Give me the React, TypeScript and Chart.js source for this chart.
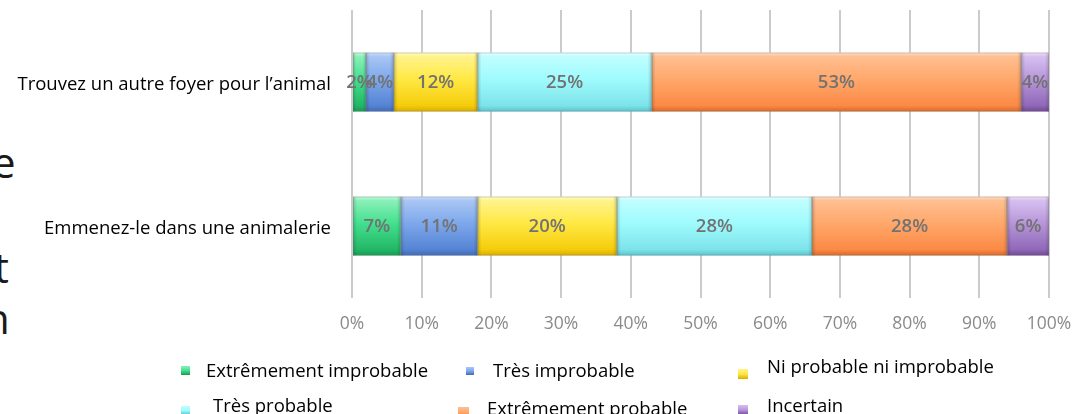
import React, { useEffect, useRef } from "react";
import { Chart, registerables } from "chart.js";

Chart.register(...registerables);

// Survey answers, percentages per option
const categories = ["Trouvez un autre foyer pour l’animal", "Emmenez-le dans une animalerie"];

const seriesNames = [
  "Extrêmement improbable",
  "Très improbable",
  "Ni probable ni improbable",
  "Très probable",
  "Extrêmement probable",
  "Incertain",
];

const extremementImprobable = [2, 7];
const tresImprobable = [4, 11];
const niProbableNiImprobable = [12, 20];
const tresProbable = [25, 28];
const extremementProbable = [53, 28];
const incertain = [4, 6];

const xTickValues = [0, 10, 20, 30, 40, 50, 60, 70, 80, 90, 100];

const FONT = "'Open Sans', 'Noto Sans', sans-serif";
const BAR_FRACTION = 0.41;

// Bevel-like vertical shading for each answer
const palette = [
  { hi: "#c4fadc", top: "#8af0b8", mid: "#44e08f", bottom: "#22b767", edge: "#159a52" },
  { hi: "#cfe0fa", top: "#a8c5f4", mid: "#7ea8ec", bottom: "#5584d4", edge: "#3e69b5" },
  { hi: "#fffbc8", top: "#fff38a", mid: "#ffe844", bottom: "#f5cc0a", edge: "#d9ad00" },
  { hi: "#e6ffff", top: "#bffeff", mid: "#9ffbfd", bottom: "#7de3ea", edge: "#58c4cc" },
  { hi: "#ffe0c8", top: "#ffbf92", mid: "#ffa86b", bottom: "#fb8a45", edge: "#d9692a" },
  { hi: "#eee0f8", top: "#d6bff0", mid: "#b896da", bottom: "#9068b8", edge: "#6f4794" },
];

// Legend placement (box x, box y, box size, text x, text baseline)
const legendLayout = [
  { bx: 181, by: 366, bs: 9, tx: 206, ty: 377 },
  { bx: 466, by: 367, bs: 8, tx: 493, ty: 377 },
  { bx: 738, by: 369, bs: 10, tx: 767, ty: 373 },
  { bx: 181, by: 406, bs: 9, tx: 213, ty: 412 },
  { bx: 458, by: 407, bs: 11, tx: 487, ty: 415 },
  { bx: 738, by: 405, bs: 10, tx: 767, ty: 412 },
];

function barFill(ci: number) {
  return (ctx: any) => {
    const c = palette[ci];
    const chart = ctx.chart;
    const yScale = chart.scales && chart.scales.y;
    if (!chart.chartArea || !yScale || ctx.type !== "data") return c.mid;
    const cy = yScale.getPixelForValue(ctx.dataIndex);
    const band = Math.abs(yScale.getPixelForValue(1) - yScale.getPixelForValue(0)) || yScale.height;
    const half = (band * BAR_FRACTION) / 2;
    const g = chart.ctx.createLinearGradient(0, cy - half, 0, cy + half);
    g.addColorStop(0, c.hi);
    g.addColorStop(0.07, c.top);
    g.addColorStop(0.45, c.mid);
    g.addColorStop(0.9, c.bottom);
    g.addColorStop(1, c.edge);
    return g;
  };
}

function dropScalePadding(scale: any) {
  scale.paddingLeft = 0;
  scale.paddingRight = 0;
  scale.paddingTop = 0;
  scale.paddingBottom = 0;
}

const barDecor = {
  id: "barDecor",
  afterDatasetsDraw(chart: any) {
    const { ctx } = chart;
    ctx.save();
    chart.data.datasets.forEach((ds: any, i: number) => {
      const meta = chart.getDatasetMeta(i);
      meta.data.forEach((el: any) => {
        const left = Math.min(el.x, el.base);
        const right = Math.max(el.x, el.base);
        const top = el.y - el.height / 2;
        const bottom = el.y + el.height / 2;
        // soft side shading
        const w = Math.min(4, (right - left) / 4);
        const gl = ctx.createLinearGradient(left, 0, left + w, 0);
        gl.addColorStop(0, "rgba(0,0,0,0.18)");
        gl.addColorStop(1, "rgba(0,0,0,0)");
        ctx.fillStyle = gl;
        ctx.fillRect(left, top, w, bottom - top);
        const gr = ctx.createLinearGradient(right - w, 0, right, 0);
        gr.addColorStop(0, "rgba(0,0,0,0)");
        gr.addColorStop(1, "rgba(0,0,0,0.16)");
        ctx.fillStyle = gr;
        ctx.fillRect(right - w, top, w, bottom - top);
        // thin outline
        ctx.strokeStyle = "rgba(120,120,120,0.35)";
        ctx.lineWidth = 1;
        ctx.strokeRect(left + 0.5, top + 0.5, right - left - 1, bottom - top - 1);
      });
    });
    // value labels
    ctx.font = `600 18.5px ${FONT}`;
    ctx.fillStyle = "#727272";
    ctx.textAlign = "center";
    ctx.textBaseline = "middle";
    chart.data.datasets.forEach((ds: any, i: number) => {
      const meta = chart.getDatasetMeta(i);
      meta.data.forEach((el: any, j: number) => {
        ctx.fillText(`${ds.data[j]}%`, (el.x + el.base) / 2, el.y + 1);
      });
    });
    ctx.restore();
  },
};

const manualLegend = {
  id: "manualLegend",
  afterDraw(chart: any) {
    const { ctx } = chart;
    ctx.save();
    ctx.font = `18.5px ${FONT}`;
    ctx.textAlign = "left";
    ctx.textBaseline = "alphabetic";
    legendLayout.forEach((p, i) => {
      const c = palette[i];
      const g = ctx.createLinearGradient(0, p.by, 0, p.by + p.bs);
      g.addColorStop(0, c.top);
      g.addColorStop(0.5, c.mid);
      g.addColorStop(1, c.edge);
      ctx.fillStyle = g;
      ctx.fillRect(p.bx, p.by, p.bs, p.bs);
      ctx.fillStyle = "#000";
      ctx.fillText(seriesNames[i], p.tx, p.ty);
    });
    ctx.restore();
  },
};

export default function App() {
  const ref = useRef<HTMLCanvasElement>(null);

  useEffect(() => {
    document.body.style.margin = "0";
    const seriesData = [
      extremementImprobable,
      tresImprobable,
      niProbableNiImprobable,
      tresProbable,
      extremementProbable,
      incertain,
    ];
    const chart = new Chart(ref.current as HTMLCanvasElement, {
      type: "bar",
      data: {
        labels: categories,
        datasets: seriesData.map((d, i) => ({
          label: seriesNames[i],
          data: d,
          backgroundColor: barFill(i),
          borderWidth: 0,
          categoryPercentage: 1,
          barPercentage: BAR_FRACTION,
        })),
      },
      options: {
        indexAxis: "y",
        responsive: false,
        animation: false,
        layout: { padding: { top: 10, right: 25, left: 0, bottom: 0 } },
        plugins: {
          legend: { display: false },
          tooltip: { enabled: false },
        },
        scales: {
          x: {
            stacked: true,
            min: 0,
            max: 100,
            afterBuildTicks: (scale: any) => {
              scale.ticks = xTickValues.map((v) => ({ value: v }));
            },
            afterFit: (scale: any) => {
              scale.height = 116;
              dropScalePadding(scale);
            },
            ticks: {
              callback: (v: any) => `${v}%`,
              color: "#8a8a8a",
              font: { family: FONT, size: 17.5 },
              padding: 16,
              maxRotation: 0,
            },
            grid: { color: "#cbcbcb", lineWidth: 2, drawTicks: false },
            border: { display: false },
          },
          y: {
            stacked: true,
            afterFit: (scale: any) => {
              scale.width = 352;
              dropScalePadding(scale);
            },
            ticks: {
              color: "#000",
              font: { family: FONT, size: 18.5 },
              padding: 21,
              labelOffset: 3,
            },
            grid: { display: false, drawTicks: false },
            border: { display: false },
          },
        },
      },
      plugins: [barDecor, manualLegend],
    });
    return () => chart.destroy();
  }, []);

  const edgeLetter: React.CSSProperties = {
    position: "absolute",
    fontFamily: FONT,
    fontSize: 42,
    lineHeight: "42px",
    color: "#1a1a1a",
    whiteSpace: "pre",
  };

  return (
    <div
      style={{
        position: "relative",
        width: 1074,
        height: 414,
        overflow: "hidden",
        background: "#fff",
      }}
    >
      <span style={{ ...edgeLetter, left: -8, top: 141 }}>e</span>
      <span style={{ ...edgeLetter, left: -6, top: 246 }}>t</span>
      <span style={{ ...edgeLetter, left: -16, top: 297 }}>n</span>
      <canvas
        ref={ref}
        width={1074}
        height={414}
        style={{ position: "absolute", left: 0, top: 0, width: 1074, height: 414 }}
      />
    </div>
  );
}
